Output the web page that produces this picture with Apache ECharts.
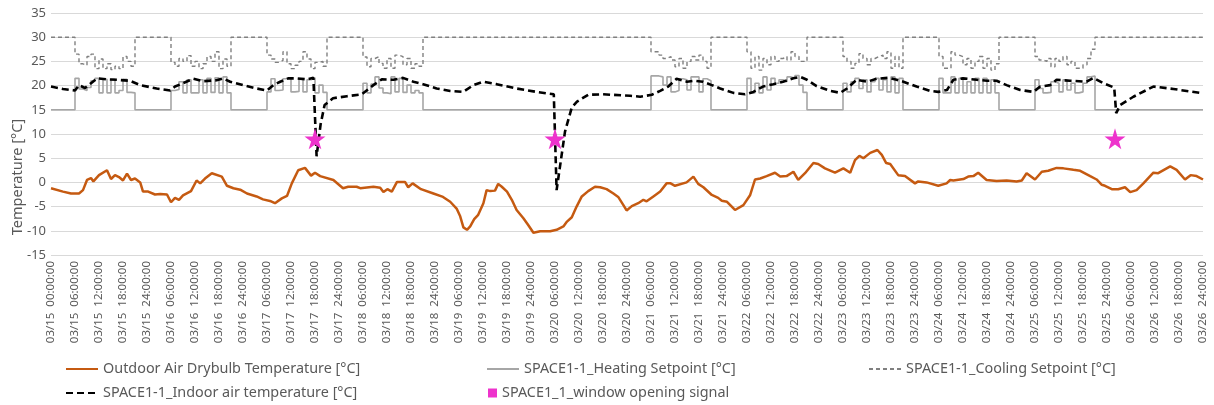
<!DOCTYPE html>
<html>
<head>
<meta charset="utf-8">
<script src="https://cdn.jsdelivr.net/npm/echarts@6/dist/echarts.min.js"></script>
<style>
html,body{margin:0;padding:0;background:#fff;}
#chart{width:1214px;height:405px;}
</style>
</head>
<body>
<div id="chart"></div>
<script>
// ---- DATA ----
const tickLabels = [
  "03/15  00:00:00","03/15  06:00:00","03/15  12:00:00","03/15  18:00:00","03/15  24:00:00",
  "03/16  06:00:00","03/16  12:00:00","03/16  18:00:00","03/16  24:00:00",
  "03/17  06:00:00","03/17  12:00:00","03/17  18:00:00","03/17  24:00:00",
  "03/18  06:00:00","03/18  12:00:00","03/18  18:00:00","03/18  24:00:00",
  "03/19  06:00:00","03/19  12:00:00","03/19  18:00:00","03/19  24:00:00",
  "03/20  06:00:00","03/20  12:00:00","03/20  18:00:00","03/20  24:00:00",
  "03/21  06:00:00","03/21  12:00:00","03/21  18:00:00","03/21  24:00:00",
  "03/22  06:00:00","03/22  12:00:00","03/22  18:00:00","03/22  24:00:00",
  "03/23  06:00:00","03/23  12:00:00","03/23  18:00:00","03/23  24:00:00",
  "03/24  06:00:00","03/24  12:00:00","03/24  18:00:00","03/24  24:00:00",
  "03/25  06:00:00","03/25  12:00:00","03/25  18:00:00","03/25  24:00:00",
  "03/26  06:00:00","03/26  12:00:00","03/26  18:00:00","03/26  24:00:00"
];

// hours since 03/15 00:00
const outdoorHours = [0,3,5,7,8,9,10,10.6,12,14,15,16,17,18,19,20,21,22.3,23,24.3,26,27.3,29,30,31,32,33,35,36.4,37.3,38.5,40.2,42.7,44,45.6,47.3,49,51.4,53,55,56,57.7,59,60.2,61.8,63.5,65,66,67.3,70.6,73,74.3,76.4,77.3,80.6,82.3,83.1,84.1,85.2,86.5,88.5,89.3,90.4,92.5,95.6,98,99.8,101.4,102.3,103.1,104,104.8,105.8,106.8,108.1,108.9,109.8,111,111.8,112.7,114,115.2,116.4,118.1,119.3,120.6,122.3,124.8,126.4,128.1,129,130.2,131.4,132.7,134.3,136,137.3,138.9,140.6,141.8,143.1,143.9,145.2,146.8,148.1,148.9,150.6,152.3,153.9,154.9,156,158.9,160.6,161.8,163.1,165.2,166.8,167.7,169,171,173.1,174.8,176,177.3,178.9,181,182.3,183.9,185.6,186.8,188.5,190.6,191.8,193.5,196,198.1,199.8,201,202.1,203.1,204.8,206.6,207.7,208.8,209.8,211.8,213.5,216,216.8,218.9,221.8,223.9,224.8,225.6,228.1,229.3,230.6,231.8,233.9,236.4,238.9,241.4,242.7,243.9,246,247.7,249.3,251.4,253.1,255.6,257.3,259.8,261.4,262.7,263.5,265.2,266.8,268.5,269.8,271.4,273.1,275.6,276.8,279.8,281.4,283.5,284.9,286.4,288];
const outdoorTemp = [-1.2,-1.9,-2.3,-2.3,-1.6,0.5,0.9,0.2,1.5,2.5,0.7,1.5,1.1,0.4,1.8,0.5,0.8,0.0,-1.9,-1.9,-2.5,-2.4,-2.5,-4.1,-3.2,-3.6,-2.7,-1.8,0.4,-0.2,0.8,1.9,1.2,-0.7,-1.2,-1.5,-2.3,-2.9,-3.5,-3.9,-4.3,-3.3,-2.8,-0.2,2.5,3.0,1.4,2.0,1.3,0.5,-1.2,-0.9,-0.9,-1.2,-0.9,-1.1,-2.0,-1.4,-1.9,0.1,0.1,-1.0,-0.2,-1.4,-2.3,-3.0,-4.0,-5.4,-7.0,-9.3,-9.8,-9.1,-7.6,-6.7,-4.3,-1.6,-1.8,-1.7,-0.3,-0.9,-1.9,-3.6,-5.7,-7.4,-8.8,-10.4,-10.1,-10.1,-9.8,-9.1,-8.1,-7.2,-5.0,-2.9,-1.8,-0.9,-1.0,-1.4,-2.3,-3.0,-4.7,-5.8,-4.9,-4.3,-3.6,-3.9,-2.9,-1.9,-0.2,-0.2,-0.7,0.0,1.2,-0.3,-1.0,-2.6,-3.2,-3.8,-4.0,-5.7,-4.7,-2.6,0.6,0.8,1.3,2.0,1.2,1.3,2.2,0.5,1.9,4.0,3.8,2.9,2.0,2.9,2.0,4.6,5.5,5.0,6.1,6.7,5.7,4.0,3.8,1.5,1.3,-0.2,0.2,0.0,-0.7,-0.2,0.5,0.4,0.7,1.2,1.3,2.0,0.5,0.3,0.4,0.2,0.4,1.9,0.6,2.2,2.4,3.0,2.9,2.6,2.4,1.3,0.6,-0.5,-0.7,-1.4,-1.4,-1.0,-2.0,-1.6,-0.2,2.0,1.9,3.3,2.6,0.6,1.5,1.3,0.6];

const indoorHours = [0,3,6,7,8.5,10,11.5,14,16.5,19.7,22.3,26.4,29.8,31,33,35.6,38,41.4,43,44.8,48,51.4,54,55.6,57.3,59.3,61.4,64,65.6,66.4,67.4,68.4,70.5,74,77.7,80.6,82.7,85.6,88,90.6,93,96.4,99.8,103,105.6,108,111.4,116.4,121.4,125.7,126.4,127.2,128.5,130.2,131.5,134.3,138,144.8,147.3,150.2,152.3,154.3,156.4,159,161,163,165.2,167.3,170.6,173.5,175.6,178,180.6,183,185.6,187.3,189,191.4,194.8,197.3,199,201.4,204,206.4,209.3,211.4,213.1,216.4,219.8,221.8,224,225.6,228,231.4,234,236.4,238.9,242.3,245.6,247.3,249.8,251.4,254.8,258.9,260.6,263.1,265.8,266.3,267.3,270.6,275.6,280.6,288];
const indoorTemp = [19.8,19.3,19.0,20.1,19.5,20.5,21.5,21.3,21.2,21.0,20.1,19.4,19.0,19.8,20.5,21.4,20.9,21.1,21.5,20.8,20.1,19.4,19.0,20.1,20.8,21.5,21.5,21.3,21.6,5.4,12.0,16.0,17.4,17.8,18.2,20.1,21.3,21.2,21.6,20.8,20.3,19.4,18.9,18.7,20.1,20.8,20.3,19.4,18.7,18.2,-1.6,3.0,10.5,15.5,16.7,18.1,18.2,17.9,17.7,18.1,18.9,19.8,21.4,20.8,21.0,20.8,20.1,19.4,18.5,18.2,18.7,19.8,20.3,20.8,21.5,21.8,21.2,19.9,18.9,18.5,19.4,21.2,20.8,21.4,21.6,21.2,20.8,19.8,18.9,18.7,19.1,21.2,21.5,21.2,21.0,21.0,20.1,19.1,18.7,19.8,20.1,21.2,21.0,20.8,21.6,20.5,19.6,14.3,16.0,17.7,19.8,19.3,18.4];

// occupied schedule: day index (0 = 03/15), occupied hours 06..20
const occupiedDays = [0,1,2,3,6,7,8,9,10];
const occupiedStartHour = 6;
const heatingUnoccupied = 15;
const coolingUnoccupied = 30;
const heatingOccupied = [
  [21.5,19.3,19.0,19.6,21.0,21.5,18.5,21.3,18.5,21.3,18.5,19.0,21.3,18.6,18.5],
  [19.0,19.2,20.8,18.5,21.2,18.5,18.5,21.2,18.5,21.5,18.6,21.6,18.5,21.8,18.5],
  [18.7,21.4,19.0,19.1,21.4,21.6,18.7,18.8,21.4,18.7,21.2,21.6,18.5,20.1,18.6],
  [20.5,18.5,20.3,21.8,19.5,18.5,18.3,21.8,18.7,21.5,18.6,20.1,18.5,19.0,18.5],
  [22.0,22.0,21.8,20.1,21.8,18.7,19.0,21.4,21.2,19.1,21.8,21.8,18.7,21.4,21.0],
  [21.5,18.5,20.5,18.5,21.8,19.1,21.5,20.5,21.2,20.8,21.8,21.5,22.1,20.1,18.6],
  [20.5,18.7,20.8,21.5,19.4,21.2,18.7,20.8,21.5,19.1,21.2,18.7,21.8,18.5,21.5],
  [21.5,18.5,18.5,21.8,18.5,21.5,18.5,20.8,18.5,21.5,18.5,21.5,18.5,21.2,18.5],
  [21.2,19.4,18.5,18.6,20.8,20.5,18.7,21.2,19.1,20.5,18.5,18.7,20.5,21.8,22.0]
];
const coolingOccupied = [
  [26.5,24.5,24.2,26.0,26.5,23.5,25.5,23.5,24.5,23.3,24.0,23.5,26.0,25.0,24.0],
  [24.8,24.0,25.6,25.0,26.2,24.0,25.0,23.5,24.5,26.0,25.0,27.0,23.5,25.5,24.0],
  [26.3,25.5,24.8,25.2,27.0,24.5,23.5,24.2,25.0,27.0,25.5,23.5,24.8,25.0,24.0],
  [25.9,23.9,25.6,26.0,24.6,23.6,25.6,23.6,26.3,26.0,24.3,25.6,23.6,24.5,24.0],
  [27.0,27.0,26.3,25.6,26.0,25.3,23.9,25.6,23.6,25.0,26.0,25.3,26.3,25.0,23.6],
  [27.0,23.6,26.0,23.2,25.6,24.3,26.0,25.0,25.6,26.0,25.3,27.0,26.0,25.0,25.0],
  [26.0,25.0,23.6,24.6,26.6,25.6,24.3,25.6,26.0,26.3,25.6,27.0,23.6,26.0,23.6],
  [26.0,23.6,23.6,27.0,26.3,26.0,24.3,25.6,23.6,25.0,26.0,23.6,25.6,23.2,24.5],
  [26.0,25.3,25.0,25.6,23.9,25.6,25.0,26.0,24.3,25.0,23.6,23.6,24.3,25.6,27.5]
];

const windowHours = [66, 126, 266];
const windowSignal = [9, 9, 9];

// ---- build series data ----
function pairs(xs, ys){ return xs.map((x,i)=>[x, ys[i]]); }
function setpointSeries(table, base){
  const out = [];
  for (let h = 0; h <= 288; h++){
    const day = Math.floor(h/24), hr = h % 24;
    const k = occupiedDays.indexOf(day);
    const idx = hr - occupiedStartHour;
    let v = base;
    if (k >= 0 && idx >= 0 && idx < table[k].length) v = table[k][idx];
    out.push([h, v]);
  }
  return out;
}

const names = {
  out: 'Outdoor Air Drybulb Temperature [°C]',
  heat: 'SPACE1-1_Heating Setpoint [°C]',
  cool: 'SPACE1-1_Cooling Setpoint [°C]',
  ind: 'SPACE1-1_Indoor air temperature [°C]',
  win: 'SPACE1_1_window opening signal'
};
const txt = '#595959';
const font = 'Noto Sans';
const starPath = 'path://M50,0 L61,35 L98,35 L68,57 L79,91 L50,70 L21,91 L32,57 L2,35 L39,35 Z';

function legend(name, left, top, extra){
  return Object.assign({
    data: [name], left: left, top: top, padding: 0,
    itemWidth: 32, itemHeight: 14, itemGap: 4,
    itemStyle: {opacity: 0},
    textStyle: {color: txt, fontSize: 14.4, fontFamily: font}
  }, extra || {});
}

const chart = echarts.init(document.getElementById('chart'), null, {renderer: 'canvas'});
chart.setOption({
  animation: false,
  backgroundColor: '#ffffff',
  textStyle: {fontFamily: font},
  grid: {left: 51, right: 11, top: 13, bottom: 150, containLabel: false},
  legend: [
    legend(names.out, 65, 362),
    legend(names.heat, 486, 362),
    legend(names.cool, 868, 362),
    legend(names.ind, 65, 386),
    legend(names.win, 488, 386, {icon: 'rect', itemWidth: 9, itemHeight: 9, itemGap: 4, itemStyle: {opacity: 1}})
  ],
  graphic: [{
    type: 'text', x: 18, y: 177, rotation: Math.PI / 2,
    style: {text: 'Temperature [°C]', fill: txt, font: '14.5px "Noto Sans"', textAlign: 'center', textVerticalAlign: 'middle'}
  }],
  xAxis: {
    type: 'value', min: 0, max: 288, interval: 6,
    axisLine: {show: false}, axisTick: {show: false}, splitLine: {show: false},
    axisLabel: {
      rotate: 90, margin: 6, color: txt, fontSize: 11.5, fontFamily: font,
      showMinLabel: true, showMaxLabel: true,
      formatter: v => tickLabels[Math.round(v/6)] || ''
    }
  },
  yAxis: {
    type: 'value', min: -15, max: 35, interval: 5,
    axisLine: {show: false}, axisTick: {show: false},
    splitLine: {lineStyle: {color: '#d9d9d9', width: 1}},
    axisLabel: {color: txt, fontSize: 13, fontFamily: font, margin: 5}
  },
  series: [
    {name: names.out, type: 'line', symbol: 'none', data: pairs(outdoorHours, outdoorTemp),
     lineStyle: {color: '#c55a11', width: 2.5}, itemStyle: {color: '#c55a11'}},
    {name: names.heat, type: 'line', symbol: 'none', step: 'end', data: setpointSeries(heatingOccupied, heatingUnoccupied),
     lineStyle: {color: '#a6a6a6', width: 1.6}, itemStyle: {color: '#a6a6a6'}},
    {name: names.cool, type: 'line', symbol: 'none', step: 'end', data: setpointSeries(coolingOccupied, coolingUnoccupied),
     lineStyle: {color: '#808080', width: 1.4, type: [4, 3]}, itemStyle: {color: '#808080'}},
    {name: names.ind, type: 'line', symbol: 'none', data: pairs(indoorHours, indoorTemp),
     lineStyle: {color: '#000000', width: 2.6, type: [7, 4]}, itemStyle: {color: '#000000'}},
    {name: names.win, type: 'scatter', symbol: starPath, symbolSize: 21, data: pairs(windowHours, windowSignal),
     itemStyle: {color: '#ee33cc', opacity: 1}, z: 5}
  ]
});
</script>
</body>
</html>
